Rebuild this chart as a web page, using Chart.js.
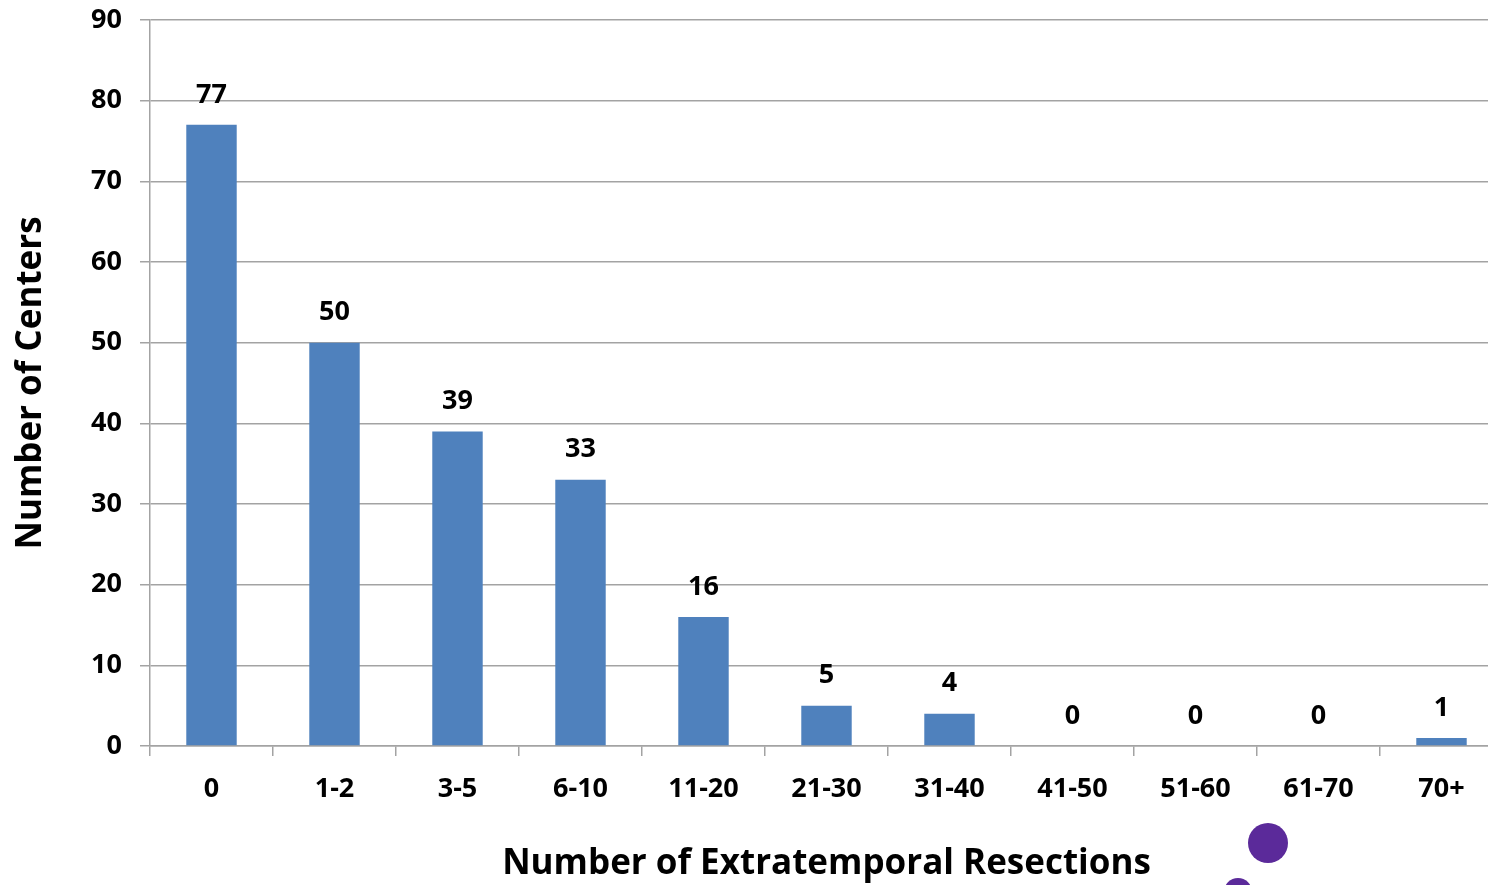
<!DOCTYPE html>
<html>
<head>
<meta charset="utf-8">
<script src="https://cdn.jsdelivr.net/npm/chart.js@4"></script>
<style>
  html, body { margin: 0; padding: 0; background: #fff; overflow: hidden; }
  #wrap { position: relative; width: 1503px; height: 885px; }
  .dot { position: absolute; border-radius: 50%; background: #5b2a9a; }
</style>
</head>
<body>
<div id="wrap">
  <canvas id="chart" width="1503" height="885"></canvas>
  <div class="dot" style="left:1248px;top:823px;width:40px;height:40px;"></div>
  <div class="dot" style="left:1224px;top:878px;width:28px;height:28px;"></div>
</div>
<script>
/* ---------- Data ---------- */
const categories = ['0', '1-2', '3-5', '6-10', '11-20', '21-30', '31-40', '41-50', '51-60', '61-70', '70+'];
const centers = [77, 50, 39, 33, 16, 5, 4, 0, 0, 0, 1];
const yTicks = [0, 10, 20, 30, 40, 50, 60, 70, 80, 90];

const FONT = "'Open Sans', 'Liberation Sans', sans-serif";
const GRID = '#a3a3a3';

/* value labels above each bar */
const barLabels = {
  id: 'barLabels',
  afterDatasetsDraw(chart) {
    const ctx = chart.ctx;
    const meta = chart.getDatasetMeta(0);
    ctx.save();
    ctx.font = `bold 27px ${FONT}`;
    ctx.fillStyle = '#000';
    ctx.textAlign = 'center';
    ctx.textBaseline = 'middle';
    meta.data.forEach((bar, i) => {
      ctx.fillText(String(centers[i]), bar.x, bar.y - 30);
    });
    ctx.restore();
  }
};

new Chart(document.getElementById('chart').getContext('2d'), {
  type: 'bar',
  data: {
    labels: categories,
    datasets: [{
      data: centers,
      backgroundColor: '#4f81bd',
      borderWidth: 0,
      barPercentage: 0.41,
      categoryPercentage: 1
    }]
  },
  options: {
    responsive: false,
    animation: false,
    layout: { padding: { top: 20, right: 0, left: 0, bottom: 0 } },
    plugins: { legend: { display: false }, tooltip: { enabled: false } },
    scales: {
      x: {
        offset: true,
        grid: { display: true, drawOnChartArea: false, offset: true, color: GRID, tickLength: 10, lineWidth: 1.5 },
        border: { color: GRID, width: 1.5 },
        ticks: { color: '#000', font: { family: FONT, size: 27, weight: 'bold' }, padding: 17 },
        title: {
          display: true, text: 'Number of Extratemporal Resections', color: '#000',
          font: { family: FONT, size: 35, weight: 'bold' }, padding: { top: 33, bottom: 0 }
        },
        afterFit: s => { s.height = 139; s.paddingLeft = 0; s.paddingRight = 0; }
      },
      y: {
        min: 0, max: 90,
        afterBuildTicks: s => { s.ticks = yTicks.map(v => ({ value: v })); },
        grid: { color: GRID, tickLength: 10, lineWidth: 1.5 },
        border: { color: GRID, width: 1.5 },
        ticks: { color: '#000', font: { family: FONT, size: 27, weight: 'bold' }, padding: 18 },
        title: {
          display: true, text: 'Number of Centers', color: '#000',
          font: { family: FONT, size: 35, weight: 'bold' }, padding: { top: 10, bottom: 0 }
        },
        afterFit: s => { s.width = 150; s.paddingTop = 0; s.paddingBottom = 0; }
      }
    }
  },
  plugins: [barLabels]
});
</script>
</body>
</html>
